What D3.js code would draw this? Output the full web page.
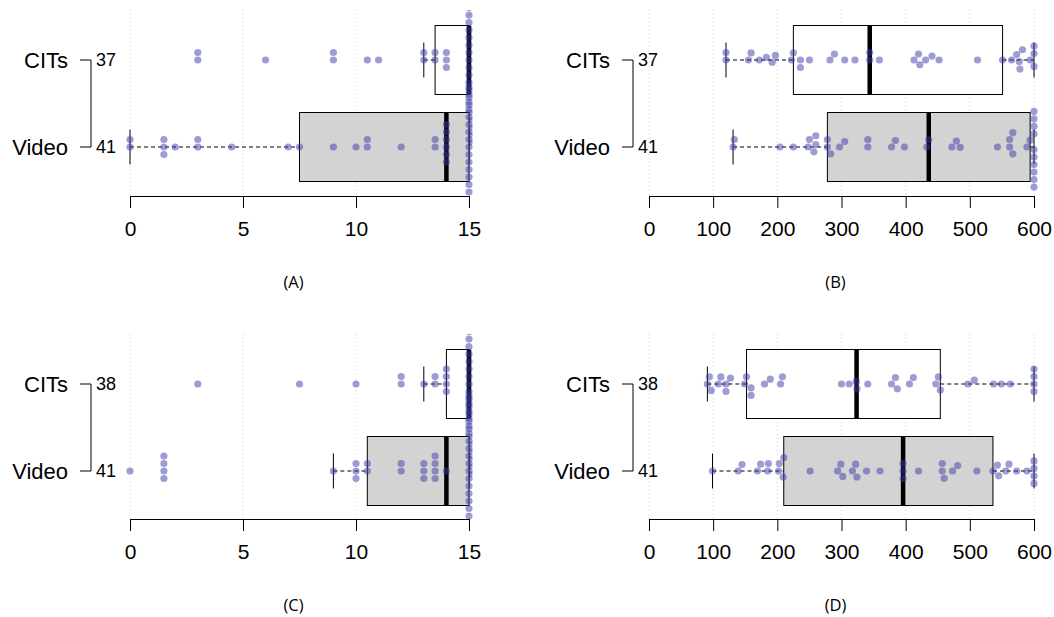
<!DOCTYPE html>
<html><head><meta charset="utf-8">
<script src="https://cdn.jsdelivr.net/npm/d3@7"></script>
<style>body{margin:0;background:#fff}svg{display:block}</style>
</head><body>
<script>
const groups = ["CITs", "Video"];
const panelLabels = ["(A)", "(B)", "(C)", "(D)"];
const ticksA = [0, 5, 10, 15];
const ticksB = [0, 100, 200, 300, 400, 500, 600];
const countsA = [37, 41], countsB = [37, 41], countsC = [38, 41], countsD = [38, 41];

const citsA = [3,3,6,9,9,10.5,11,13,13,13.5,13.5,14,14,14,
  15,15,15,15,15,15,15,15,15,15,15,15,15,15,15,15,15,15,15,15,15,15,15];
const videoA = [0,0,1.5,1.5,1.5,2,3,3,4.5,7,7.5,9,10,10.5,10.5,12,13.5,13.5,14,14,14,14,14,14,
  15,15,15,15,15,15,15,15,15,15,15,15,15,15,15,15,15];
const citsB = [120,120,155,159,172,183,192,197,222,225,236,236,250,282,289,305,321,344,344,359,
  413,420,422,431,441,452,512,551,565,573,577,578,582,594,600,600,600];
const videoB = [131,133,204,225,248,250,257,260,260,278,278,283,297,305,341,341,378,384,398,433,
  436,472,479,485,543,562,562,567,567,589,594,600,600,600,600,600,600,600,600,600,600];
const citsC = [3,7.5,10,12,12,13,13.5,13.5,14,14,14,14,
  15,15,15,15,15,15,15,15,15,15,15,15,15,15,15,15,15,15,15,15,15,15,15,15,15,15];
const videoC = [0,1.5,1.5,1.5,1.5,9,10,10,10,10.5,10.5,12,12,13,13,13,13.5,13.5,13.5,13.5,14,
  15,15,15,15,15,15,15,15,15,15,15,15,15,15,15,15,15,15,15,15];
const citsD = [91,94,97,108,112,120,120,127,149,152,159,159,180,189,205,208,300,312,323,324,341,
  378,384,387,406,412,447,451,454,497,507,537,549,563,600,600,600,600];
const videoD = [99,139,145,169,174,185,186,202,203,209,210,251,294,299,302,317,322,324,339,360,
  396,396,396,420,457,457,460,473,481,511,536,543,545,556,561,573,589,600,600,600,600];

const W = 1054, H = 617;
const svg = d3.select("body").append("svg").attr("width", W).attr("height", H);
const defs = svg.append("defs");

const panels = [
  {lab: panelLabels[0], ticks: ticksA, data: [citsA, videoA], n: countsA, px: [130, 469], lx: 0, top: 10, rowY: [60, 147], axisY: 196, fill: ["#ffffff", "#d3d3d3"]},
  {lab: panelLabels[1], ticks: ticksB, data: [citsB, videoB], n: countsB, px: [649, 1034], lx: 542, top: 10, rowY: [60, 147], axisY: 196, fill: ["#ffffff", "#d3d3d3"]},
  {lab: panelLabels[2], ticks: ticksA, data: [citsC, videoC], n: countsC, px: [130, 469], lx: 0, top: 334, rowY: [384, 471], axisY: 519, fill: ["#ffffff", "#d3d3d3"]},
  {lab: panelLabels[3], ticks: ticksB, data: [citsD, videoD], n: countsD, px: [649, 1034], lx: 542, top: 334, rowY: [384, 471], axisY: 519, fill: ["#ffffff", "#d3d3d3"]}
];

function fivenum(arr) {
  const x = arr.slice().sort((a, b) => a - b);
  const n = x.length;
  const n4 = Math.floor((n + 3) / 2) / 2;
  const d = [1, n4, (n + 1) / 2, n + 1 - n4, n];
  return d.map(v => 0.5 * (x[Math.floor(v) - 1] + x[Math.ceil(v) - 1]));
}

function swarm(xs, d) {
  const placed = [];
  const out = [];
  xs.forEach(x => {
    const cands = [0];
    placed.forEach(p => {
      const dx = Math.abs(p.x - x);
      if (dx < d) {
        const h = Math.sqrt(d * d - dx * dx);
        cands.push(p.y - h, p.y + h);
      }
    });
    const ok = cands.filter(c => placed.every(p => {
      const dx = p.x - x, dy = p.y - c;
      return dx * dx + dy * dy >= d * d - 0.01;
    }));
    ok.sort((a, b) => (Math.abs(a) - Math.abs(b)) || (a - b));
    const y = ok[0];
    placed.push({x, y});
    out.push(y);
  });
  return out;
}

panels.forEach((P, pi) => {
  const dom = [P.ticks[0], P.ticks[P.ticks.length - 1]];
  const x = d3.scaleLinear().domain(dom).range(P.px);
  const y = d3.scaleOrdinal().domain(groups).range(P.rowY);
  const g = svg.append("g");
  const clipId = "clip" + pi;
  defs.append("clipPath").attr("id", clipId).append("rect")
    .attr("x", P.px[0] - 16).attr("y", P.top)
    .attr("width", P.px[1] - P.px[0] + 32).attr("height", P.axisY - P.top);

  g.selectAll(".grid").data(P.ticks).enter().append("line")
    .attr("x1", d => x(d)).attr("x2", d => x(d))
    .attr("y1", P.top).attr("y2", P.axisY)
    .attr("stroke", "#cfcfcf").attr("stroke-width", 1)
    .attr("stroke-dasharray", "1,3");

  const plot = g.append("g").attr("clip-path", `url(#${clipId})`);
  const boxH = 69, staple = 17.5;

  groups.forEach((grp, gi) => {
    const vals = P.data[gi];
    const f = fivenum(vals);
    const iqr = f[3] - f[1];
    const lo = d3.min(vals.filter(v => v >= f[1] - 1.5 * iqr));
    const hi = d3.max(vals.filter(v => v <= f[3] + 1.5 * iqr));
    const cy = y(grp);
    [[lo, f[1]], [f[3], hi]].forEach(([a, b]) => {
      if (a !== b) {
        plot.append("line").attr("x1", x(a)).attr("x2", x(b)).attr("y1", cy).attr("y2", cy)
          .attr("stroke", "#000").attr("stroke-width", 1).attr("stroke-dasharray", "4,3");
      }
    });
    [lo, hi].forEach(v => {
      plot.append("line").attr("x1", x(v)).attr("x2", x(v)).attr("y1", cy - staple).attr("y2", cy + staple)
        .attr("stroke", "#000").attr("stroke-width", 1);
    });
    plot.append("rect").attr("x", x(f[1])).attr("y", cy - boxH / 2)
      .attr("width", x(f[3]) - x(f[1])).attr("height", boxH)
      .attr("fill", P.fill[gi]).attr("stroke", "#000").attr("stroke-width", 1);
    plot.append("line").attr("x1", x(f[2])).attr("x2", x(f[2]))
      .attr("y1", cy - boxH / 2).attr("y2", cy + boxH / 2)
      .attr("stroke", "#000").attr("stroke-width", 4.5);

    const sorted = vals.slice().sort((a, b) => a - b);
    const offs = swarm(sorted.map(v => x(v)), 7.5);
    plot.selectAll(".pt" + gi).data(sorted).enter().append("circle")
      .attr("cx", d => x(d)).attr("cy", (d, i) => cy + offs[i]).attr("r", 3.6)
      .attr("fill", "rgb(60,60,170)").attr("fill-opacity", 0.5);

    g.append("text").attr("x", P.lx + 68).attr("y", cy).attr("dy", "0.36em")
      .attr("text-anchor", "end").attr("font-family", "Liberation Sans, Arial, sans-serif")
      .attr("font-size", 22).text(grp);
    g.append("text").attr("x", P.lx + 96).attr("y", cy).attr("dy", "0.36em")
      .attr("text-anchor", "start").attr("font-family", "Liberation Sans, Arial, sans-serif")
      .attr("font-size", 18).text(P.n[gi]);
  });

  g.append("path")
    .attr("d", `M${P.lx + 80},${P.rowY[0]}H${P.lx + 91}V${P.rowY[1]}H${P.lx + 80}`)
    .attr("fill", "none").attr("stroke", "#000").attr("stroke-width", 1);

  const ax = g.append("g").attr("transform", `translate(0,${P.axisY})`)
    .call(d3.axisBottom(x).tickValues(P.ticks).tickSize(12).tickSizeOuter(0).tickPadding(13));
  ax.select(".domain").attr("stroke", "#000");
  ax.selectAll(".tick line").attr("stroke", "#000");
  ax.selectAll("text").attr("font-family", "Liberation Sans, Arial, sans-serif")
    .attr("font-size", 21).attr("fill", "#000");

  g.append("text").attr("x", (P.px[0] + P.px[1]) / 2 - 6).attr("y", P.axisY + 86)
    .attr("dy", "0.36em").attr("text-anchor", "middle")
    .attr("font-family", "'Open Sans', 'DejaVu Sans', sans-serif").attr("font-size", 16.5)
    .text(P.lab);
});
</script>
</body></html>
